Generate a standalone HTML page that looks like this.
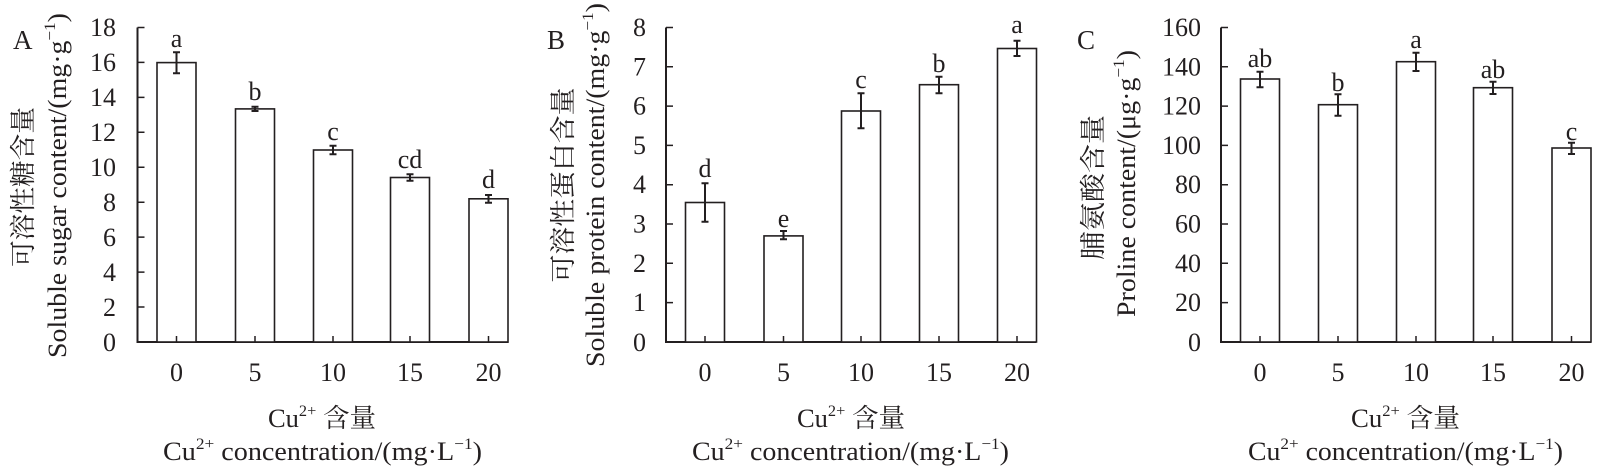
<!DOCTYPE html>
<html><head><meta charset="utf-8"><style>
html,body{margin:0;padding:0;background:#fff;}
svg{display:block;}
text{font-family:"Liberation Serif","Noto Serif CJK SC",serif;fill:#231f20;}
.cn{font-family:"Liberation Serif","Noto Serif CJK SC",serif;}
</style></head><body>
<svg width="1600" height="471" viewBox="0 0 1600 471" xmlns="http://www.w3.org/2000/svg">
<g stroke="#231f20" fill="none">
<path d="M137.5 27.5 V342 H508.5" stroke-width="2"/>
<path d="M137.5 27.5h7M137.5 62.4h7M137.5 97.4h7M137.5 132.3h7M137.5 167.2h7M137.5 202.2h7M137.5 237.1h7M137.5 272.1h7M137.5 307h7" stroke-width="1.5"/>
<g stroke-width="1.6" fill="#fff">
<rect x="157" y="62.6" width="39" height="279.4"/>
<rect x="235.5" y="108.9" width="39" height="233.1"/>
<rect x="313.5" y="150" width="39" height="192"/>
<rect x="390.5" y="177.5" width="39" height="164.5"/>
<rect x="469" y="198.8" width="39" height="143.2"/>
</g>
<path d="M176.5 342v-6M255 342v-6M333 342v-6M410 342v-6M488.5 342v-6" stroke-width="1.5"/>
<path d="M176.5 52.3V73.3M173 52.3h7M173 73.3h7 M255 106.7V111M251.5 106.7h7M251.5 111h7 M333 145.7V154.3M329.5 145.7h7M329.5 154.3h7 M410 174.3V180.7M406.5 174.3h7M406.5 180.7h7 M488.5 195V202.7M485 195h7M485 202.7h7" stroke-width="2"/>

<path d="M666 27.5 V342 H1036" stroke-width="2"/>
<path d="M666 27.5h7M666 66.8h7M666 106.1h7M666 145.4h7M666 184.7h7M666 224h7M666 263.3h7M666 302.6h7" stroke-width="1.5"/>
<g stroke-width="1.6" fill="#fff">
<rect x="685.5" y="202.5" width="39" height="139.5"/>
<rect x="764" y="235.9" width="39" height="106.1"/>
<rect x="841.5" y="111" width="39" height="231"/>
<rect x="919.5" y="84.7" width="39" height="257.3"/>
<rect x="997.5" y="48.5" width="39" height="293.5"/>
</g>
<path d="M705 342v-6M783.5 342v-6M861 342v-6M939 342v-6M1017 342v-6" stroke-width="1.5"/>
<path d="M705 183.3V221.7M701.5 183.3h7M701.5 221.7h7 M783.5 231V239.3M780 231h7M780 239.3h7 M861 93.3V128.3M857.5 93.3h7M857.5 128.3h7 M939 76.7V93.3M935.5 76.7h7M935.5 93.3h7 M1017 40.7V56M1013.5 40.7h7M1013.5 56h7" stroke-width="2"/>

<path d="M1221 27.5 V342 H1591" stroke-width="2"/>
<path d="M1221 27.5h7M1221 66.8h7M1221 106.1h7M1221 145.4h7M1221 184.7h7M1221 224h7M1221 263.3h7M1221 302.6h7" stroke-width="1.5"/>
<g stroke-width="1.6" fill="#fff">
<rect x="1240.5" y="79" width="39" height="263"/>
<rect x="1318.5" y="104.7" width="39" height="237.3"/>
<rect x="1396.5" y="61.7" width="39" height="280.3"/>
<rect x="1473.5" y="87.7" width="39" height="254.3"/>
<rect x="1552" y="148" width="39" height="194"/>
</g>
<path d="M1260 342v-6M1338 342v-6M1416 342v-6M1493 342v-6M1571.5 342v-6" stroke-width="1.5"/>
<path d="M1260 71.7V87.3M1256.5 71.7h7M1256.5 87.3h7 M1338 94.3V115.7M1334.5 94.3h7M1334.5 115.7h7 M1416 52.7V71M1412.5 52.7h7M1412.5 71h7 M1493 81.7V94M1489.5 81.7h7M1489.5 94h7 M1571.5 142.7V154M1568 142.7h7M1568 154h7" stroke-width="2"/>
</g>

<g font-size="26">
<text x="13" y="49" font-size="27">A</text>
<g text-anchor="end">
<text x="116" y="36">18</text><text x="116" y="71">16</text><text x="116" y="106">14</text><text x="116" y="141">12</text><text x="116" y="176">10</text><text x="116" y="211">8</text><text x="116" y="246">6</text><text x="116" y="281">4</text><text x="116" y="316">2</text><text x="116" y="351">0</text>
</g>
<g text-anchor="middle">
<text x="176.5" y="47">a</text><text x="255" y="100">b</text><text x="333" y="140">c</text><text x="410" y="168">cd</text><text x="488.5" y="188">d</text>
<text x="176.5" y="381">0</text><text x="255" y="381">5</text><text x="333" y="381">10</text><text x="410" y="381">15</text><text x="488.5" y="381">20</text>
</g>
<text class="cn" x="0" y="0" transform="translate(32 187) rotate(-90)" text-anchor="middle" textLength="160" lengthAdjust="spacingAndGlyphs">可溶性糖含量</text>
<text x="0" y="0" transform="translate(66 185.5) rotate(-90)" text-anchor="middle" textLength="345" lengthAdjust="spacingAndGlyphs">Soluble sugar content/(mg·g<tspan font-size="16" dy="-11">−1</tspan><tspan dy="11">)</tspan></text>
<text x="268" y="427" textLength="108" lengthAdjust="spacingAndGlyphs">Cu<tspan font-size="16" dy="-11">2+</tspan><tspan dy="11"> 含量</tspan></text>
<text x="163" y="460" textLength="319" lengthAdjust="spacingAndGlyphs">Cu<tspan font-size="16" dy="-11">2+</tspan><tspan dy="11"> concentration/(mg·L</tspan><tspan font-size="16" dy="-11">−1</tspan><tspan dy="11">)</tspan></text>

<text x="547" y="49" font-size="27">B</text>
<g text-anchor="end">
<text x="646" y="36">8</text><text x="646" y="75.3">7</text><text x="646" y="114.6">6</text><text x="646" y="153.9">5</text><text x="646" y="193.2">4</text><text x="646" y="232.5">3</text><text x="646" y="271.8">2</text><text x="646" y="311.1">1</text><text x="646" y="351">0</text>
</g>
<g text-anchor="middle">
<text x="705" y="177">d</text><text x="783.5" y="227">e</text><text x="861" y="88">c</text><text x="939" y="72">b</text><text x="1017" y="33">a</text>
<text x="705" y="381">0</text><text x="783.5" y="381">5</text><text x="861" y="381">10</text><text x="939" y="381">15</text><text x="1017" y="381">20</text>
</g>
<text class="cn" x="0" y="0" transform="translate(572 185) rotate(-90)" text-anchor="middle" textLength="195" lengthAdjust="spacingAndGlyphs">可溶性蛋白含量</text>
<text x="0" y="0" transform="translate(604 185) rotate(-90)" text-anchor="middle" textLength="364" lengthAdjust="spacingAndGlyphs">Soluble protein content/(mg·g<tspan font-size="16" dy="-11">−1</tspan><tspan dy="11">)</tspan></text>
<text x="797" y="427" textLength="108" lengthAdjust="spacingAndGlyphs">Cu<tspan font-size="16" dy="-11">2+</tspan><tspan dy="11"> 含量</tspan></text>
<text x="692" y="460" textLength="317" lengthAdjust="spacingAndGlyphs">Cu<tspan font-size="16" dy="-11">2+</tspan><tspan dy="11"> concentration/(mg·L</tspan><tspan font-size="16" dy="-11">−1</tspan><tspan dy="11">)</tspan></text>

<text x="1077" y="49" font-size="27">C</text>
<g text-anchor="end">
<text x="1201" y="36">160</text><text x="1201" y="75.3">140</text><text x="1201" y="114.6">120</text><text x="1201" y="153.9">100</text><text x="1201" y="193.2">80</text><text x="1201" y="232.5">60</text><text x="1201" y="271.8">40</text><text x="1201" y="311.1">20</text><text x="1201" y="351">0</text>
</g>
<g text-anchor="middle">
<text x="1260" y="67">ab</text><text x="1338" y="91">b</text><text x="1416" y="48">a</text><text x="1493" y="78">ab</text><text x="1571.5" y="140">c</text>
<text x="1260" y="381">0</text><text x="1338" y="381">5</text><text x="1416" y="381">10</text><text x="1493" y="381">15</text><text x="1571.5" y="381">20</text>
</g>
<text class="cn" x="0" y="0" transform="translate(1102 187.5) rotate(-90)" text-anchor="middle" textLength="145" lengthAdjust="spacingAndGlyphs">脯氨酸含量</text>
<text x="0" y="0" transform="translate(1135 183.5) rotate(-90)" text-anchor="middle" textLength="267" lengthAdjust="spacingAndGlyphs">Proline content/(μg·g<tspan font-size="16" dy="-11">−1</tspan><tspan dy="11">)</tspan></text>
<text x="1351" y="427" textLength="109" lengthAdjust="spacingAndGlyphs">Cu<tspan font-size="16" dy="-11">2+</tspan><tspan dy="11"> 含量</tspan></text>
<text x="1248" y="460" textLength="315" lengthAdjust="spacingAndGlyphs">Cu<tspan font-size="16" dy="-11">2+</tspan><tspan dy="11"> concentration/(mg·L</tspan><tspan font-size="16" dy="-11">−1</tspan><tspan dy="11">)</tspan></text>
</g>
</svg>
</body></html>
